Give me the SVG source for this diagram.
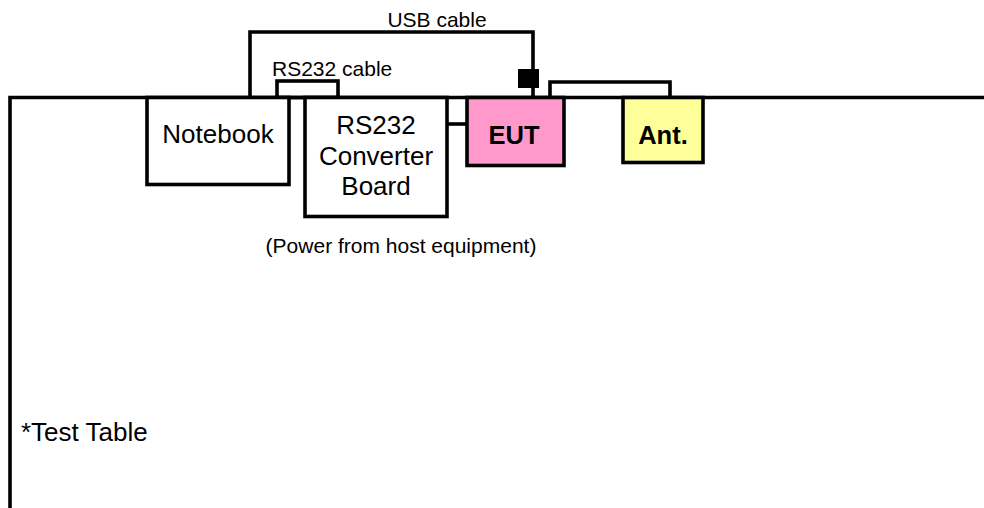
<svg xmlns="http://www.w3.org/2000/svg" width="984" height="508" viewBox="0 0 984 508">
<style>
.ln{fill:none;stroke:#000;stroke-width:3.6;stroke-linecap:square}
.box{stroke:#000;stroke-width:3.6}
.t{font-family:"Liberation Sans",Arial,sans-serif;fill:#000}
.big{font-size:26px}
.sm{font-size:21px}
.b{font-weight:bold;font-size:25.5px}
</style>
<rect width="984" height="508" fill="#fff"/>
<g id="connectors">
<path class="ln" d="M10,508 V97.5 H984"/>
<path class="ln" d="M250,97 V32 H533 V97"/>
<rect x="518" y="69" width="21" height="19" fill="#000"/>
<rect class="ln" x="277" y="81" width="61" height="16.5"/>
<path class="ln" d="M550,97 V82 H670 V97"/>
<path class="ln" d="M447,124 H466"/>
<text class="t sm" x="437" y="27" text-anchor="middle">USB cable</text>
<text class="t sm" x="272" y="76">RS232 cable</text>
</g>
<g id="table">
<text class="t big" x="21" y="441">*Test Table</text>
</g>
<g id="notebook">
<rect class="box" x="147" y="97.5" width="142" height="87" fill="#fff"/>
<text class="t big" x="218" y="143" text-anchor="middle">Notebook</text>
</g>
<g id="converter">
<rect class="box" x="305" y="97.5" width="142" height="119" fill="#fff"/>
<text class="t big" x="376" y="134" text-anchor="middle">RS232</text>
<text class="t big" x="376" y="165" text-anchor="middle">Converter</text>
<text class="t big" x="376" y="195" text-anchor="middle">Board</text>
<text class="t sm" x="401" y="253" text-anchor="middle">(Power from host equipment)</text>
</g>
<g id="eut">
<rect class="box" x="467" y="97.5" width="97" height="68" fill="#FF99CC"/>
<text class="t b" x="514" y="144" text-anchor="middle">EUT</text>
</g>
<g id="ant">
<rect class="box" x="623" y="97.5" width="80" height="65" fill="#FFFF99"/>
<text class="t b" x="663" y="144" text-anchor="middle">Ant.</text>
</g>
</svg>
